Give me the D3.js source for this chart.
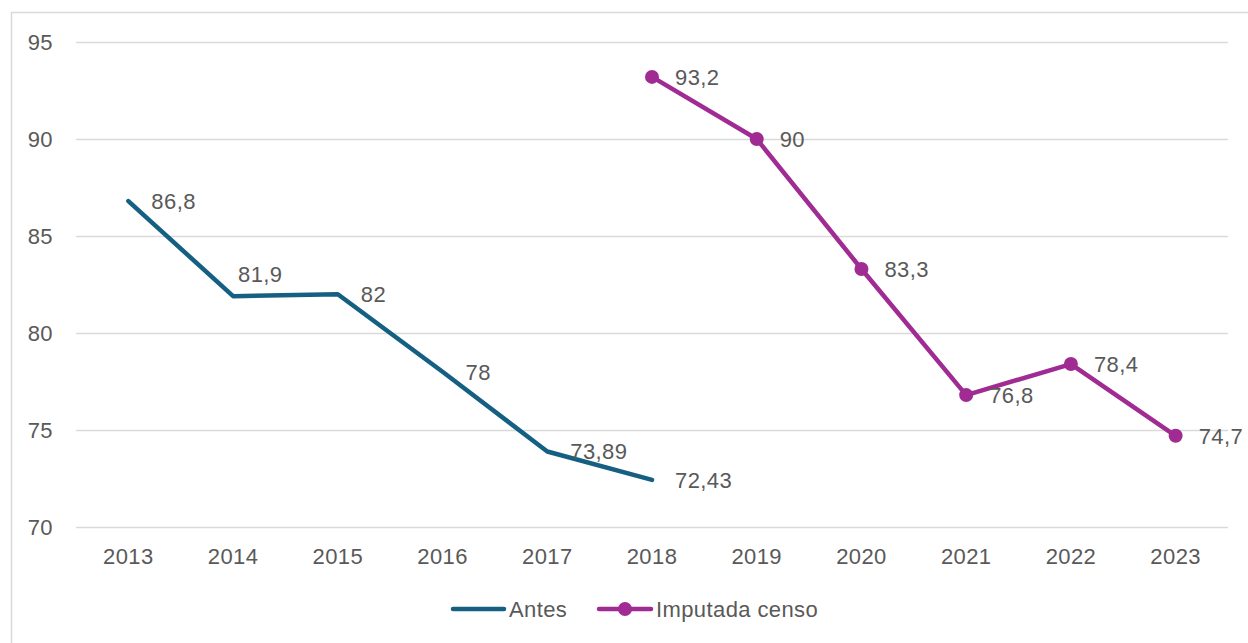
<!DOCTYPE html>
<html><head><meta charset="utf-8">
<script src="https://cdn.jsdelivr.net/npm/d3@7"></script>
<style>body{margin:0;background:#fff}svg{display:block}text{font-family:"Liberation Sans",Arial,sans-serif;fill:#595959;letter-spacing:0.4px}</style>
</head><body><svg id="c" width="1248" height="643"></svg>
<script>
const years = ["2013","2014","2015","2016","2017","2018","2019","2020","2021","2022","2023"];
const antes = [86.8, 81.9, 82, 78, 73.89, 72.43, null, null, null, null, null];
const antesLabels = ["86,8","81,9","82","78","73,89","72,43",null,null,null,null,null];
const imputada = [null, null, null, null, null, 93.2, 90, 83.3, 76.8, 78.4, 74.7];
const imputadaLabels = [null,null,null,null,null,"93,2","90","83,3","76,8","78,4","74,7"];
const yTicks = [70, 75, 80, 85, 90, 95];
const seriesNames = ["Antes", "Imputada censo"];

const svg = d3.select("#c");
const m = {left: 76, right: 20, top: 42, bottom: 116};
const x = d3.scaleBand().domain(years).range([m.left, 1228]);
const y = d3.scaleLinear().domain([70, 95]).range([527, 42]);
const fs = 22;
const ff = '"Liberation Sans",Arial,sans-serif';

svg.append("rect").attr("x", 11.5).attr("y", 12.5).attr("width", 1300).attr("height", 700)
  .attr("fill", "none").attr("stroke", "#d9d9d9").attr("stroke-width", 1.5);

const yAxis = d3.axisLeft(y).tickValues(yTicks).tickSize(-(1228 - m.left)).tickPadding(23).tickFormat(d3.format("d"));
const gy = svg.append("g").attr("transform", `translate(${m.left},0)`).call(yAxis);
gy.select(".domain").remove();
gy.selectAll(".tick line").attr("stroke", "#d9d9d9").attr("stroke-width", 1.5);
gy.selectAll(".tick text").attr("font-size", fs).attr("fill", "#595959").style("font-family", ff);

const xAxis = d3.axisBottom(x).tickSize(0).tickPadding(21);
const gx = svg.append("g").attr("transform", `translate(0,527)`).call(xAxis);
gx.select(".domain").remove();
gx.selectAll(".tick text").attr("font-size", fs).attr("fill", "#595959").style("font-family", ff);

const cx = d => x(d) + x.bandwidth() / 2;
const line = d3.line().defined(d => d.v != null).x(d => cx(d.year)).y(d => y(d.v));

const dA = years.map((yr, i) => ({year: yr, v: antes[i], label: antesLabels[i]}));
const dI = years.map((yr, i) => ({year: yr, v: imputada[i], label: imputadaLabels[i]}));

const cA = "#156082", cI = "#a02b93";
svg.append("path").datum(dA).attr("d", line).attr("fill", "none").attr("stroke", cA)
  .attr("stroke-width", 4.5).attr("stroke-linejoin", "round").attr("stroke-linecap", "round");
svg.append("path").datum(dI).attr("d", line).attr("fill", "none").attr("stroke", cI)
  .attr("stroke-width", 4.5).attr("stroke-linejoin", "round").attr("stroke-linecap", "round");
svg.selectAll(".mk").data(dI.filter(d => d.v != null)).join("circle")
  .attr("cx", d => cx(d.year)).attr("cy", d => y(d.v)).attr("r", 7).attr("fill", cI);

function labels(data) {
  svg.append("g").selectAll("text").data(data.filter(d => d.v != null)).join("text")
    .attr("x", d => d.label === "81,9" ? cx(d.year) + 5 : cx(d.year) + 23)
    .attr("y", d => d.label === "81,9" ? y(d.v) - 22 : y(d.v))
    .attr("dy", "0.35em").attr("font-size", fs).text(d => d.label);
}
labels(dA); labels(dI);

const ly = 609;
const lg = svg.append("g");
lg.append("line").attr("x1", 453).attr("x2", 504).attr("y1", ly).attr("y2", ly)
  .attr("stroke", cA).attr("stroke-width", 4.5).attr("stroke-linecap", "round");
lg.append("text").attr("x", 509).attr("y", ly).attr("dy", "0.35em").attr("font-size", fs).text(seriesNames[0]);
lg.append("line").attr("x1", 599).attr("x2", 651).attr("y1", ly).attr("y2", ly)
  .attr("stroke", cI).attr("stroke-width", 4.5).attr("stroke-linecap", "round");
lg.append("circle").attr("cx", 625).attr("cy", ly).attr("r", 7).attr("fill", cI);
lg.append("text").attr("x", 656).attr("y", ly).attr("dy", "0.35em").attr("font-size", fs).text(seriesNames[1]);
</script></body></html>
